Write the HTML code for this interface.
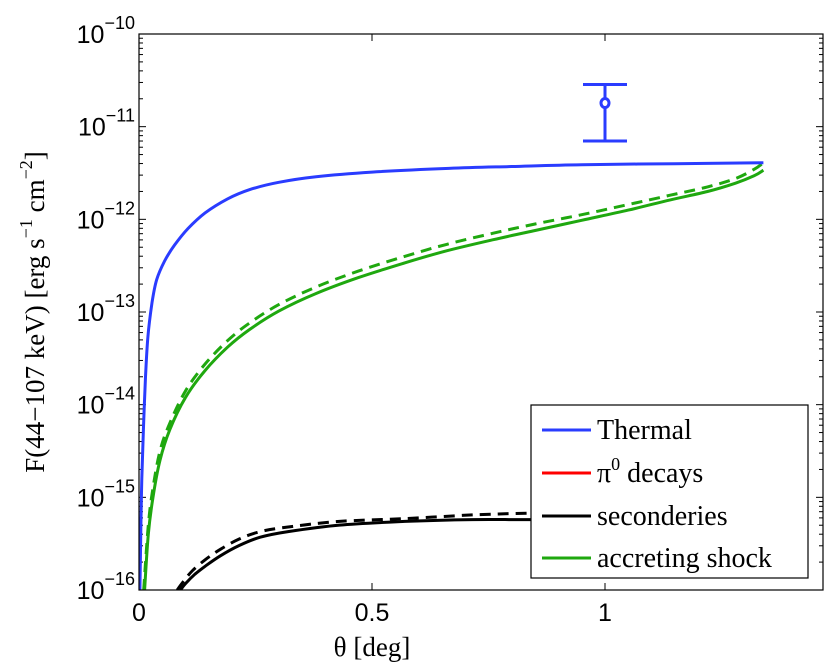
<!DOCTYPE html>
<html><head><meta charset="utf-8">
<style>
html,body{margin:0;padding:0;background:#fff;}
svg{display:block;}
</style></head>
<body>
<svg id="chart" width="830" height="670" xmlns="http://www.w3.org/2000/svg">
</svg>
<script>
// ---- data ----
const thermalX = [0.001,0.002,0.004,0.006,0.0095,0.014,0.019,0.028,0.038,0.055,0.076,0.105,0.142,0.19,0.237,0.3,0.38,0.5,0.665,0.8,0.95,1.15,1.34];
const thermalY = [-16.3,-16,-15.3,-14.8,-14.27,-13.7,-13.27,-12.9,-12.65,-12.45,-12.28,-12.10,-11.93,-11.78,-11.68,-11.60,-11.54,-11.49,-11.45,-11.43,-11.41,-11.40,-11.39];
const shockX = [0.012,0.02,0.03,0.045,0.066,0.1,0.142,0.19,0.237,0.3,0.38,0.47,0.57,0.66,0.76,0.85,0.95,1.05,1.14,1.22,1.28,1.32,1.34];
const shockY = [-16,-15.4,-15.0,-14.6,-14.27,-13.92,-13.63,-13.38,-13.19,-12.99,-12.80,-12.63,-12.47,-12.34,-12.22,-12.12,-12.01,-11.90,-11.79,-11.70,-11.61,-11.53,-11.47];
const shockDX = [0.01,0.02,0.03,0.045,0.066,0.1,0.142,0.19,0.237,0.3,0.38,0.47,0.57,0.66,0.76,0.85,0.95,1.05,1.14,1.22,1.28,1.32,1.34];
const shockDY = [-16,-15.3,-14.9,-14.5,-14.2,-13.85,-13.56,-13.31,-13.12,-12.92,-12.73,-12.56,-12.40,-12.27,-12.15,-12.05,-11.95,-11.84,-11.74,-11.65,-11.56,-11.46,-11.39];
const secX = [0.089,0.1,0.12,0.143,0.175,0.215,0.26,0.32,0.43,0.57,0.715,0.84,1.0,1.33];
const secY = [-16.0,-15.93,-15.83,-15.74,-15.63,-15.52,-15.43,-15.37,-15.30,-15.26,-15.24,-15.24,-15.23,-15.22];
const secDX = [0.082,0.095,0.115,0.143,0.175,0.215,0.26,0.32,0.43,0.57,0.715,0.84,1.0,1.33];
const secDY = [-16.0,-15.91,-15.79,-15.67,-15.56,-15.45,-15.37,-15.32,-15.26,-15.23,-15.19,-15.17,-15.15,-15.13];
const pointX = [1.0];
const pointY = [1.8e-11];
const pointLo = [7e-12];
const pointHi = [2.85e-11];
const xTicks = [0, 0.5, 1];
const xTickLabels = ["0","0.5","1"];
const yDecades = [-16,-15,-14,-13,-12,-11,-10];

// ---- axes ----
const L=139, R=823, T=34, B=590;
const XMAX=(R-L)/466;
const YMIN=-16, YMAX=-10;
function sx(v){return L+(v/XMAX)*(R-L);}
function sy(lg){return B-(lg-YMIN)/(YMAX-YMIN)*(B-T);}
const NS="http://www.w3.org/2000/svg";
const svg=document.getElementById('chart');
function mk(tag,attrs,parent){const e=document.createElementNS(NS,tag);for(const k in attrs)e.setAttribute(k,attrs[k]);(parent||svg).appendChild(e);return e;}

const clip=mk('clipPath',{id:'pc'});mk('rect',{x:L,y:T,width:R-L,height:B-T},clip);

// ticks
const ticks=mk('g',{stroke:'#000','stroke-width':1});


xTicks.forEach(v=>{const x=sx(v);mk('line',{x1:x,y1:B,x2:x,y2:B-7},ticks);mk('line',{x1:x,y1:T,x2:x,y2:T+7},ticks);});
for(let d=YMIN;d<YMAX;d++){for(let m=1;m<10;m++){const y=sy(d+Math.log10(m));const len=m==1?7:4;mk('line',{x1:L,y1:y,x2:L+len,y2:y},ticks);mk('line',{x1:R,y1:y,x2:R-len,y2:y},ticks);}}

// tick labels
xTicks.forEach((v,i)=>{const t=mk('text',{x:sx(v),y:621,'text-anchor':'middle','font-family':'Liberation Sans, sans-serif','font-size':25});t.textContent=xTickLabels[i];

});
yDecades.forEach(d=>{const y=sy(d);const t=mk('text',{x:L-4,y:y+9,'text-anchor':'end','font-family':'Liberation Sans, sans-serif','font-size':25});


const a=mk('tspan',{},t);a.textContent='10';const b=mk('tspan',{dy:-14,'font-size':18},t);b.textContent='\u2212'+(-d);});

function path(xs,ys,color,dash,name){
const P=xs.map((x,i)=>[sx(x),sy(ys[i])]);
let d='M'+P[0][0].toFixed(1)+','+P[0][1].toFixed(1);
for(let i=0;i<P.length-1;i++){const p0=P[Math.max(0,i-1)],p1=P[i],p2=P[i+1],p3=P[Math.min(P.length-1,i+2)];
const c1=[p1[0]+(p2[0]-p0[0])/6,p1[1]+(p2[1]-p0[1])/6],c2=[p2[0]-(p3[0]-p1[0])/6,p2[1]-(p3[1]-p1[1])/6];
d+='C'+c1[0].toFixed(1)+','+c1[1].toFixed(1)+' '+c2[0].toFixed(1)+','+c2[1].toFixed(1)+' '+p2[0].toFixed(1)+','+p2[1].toFixed(1);}
const p=mk('path',{d:d,fill:'none',stroke:color,'stroke-width':3,'clip-path':'url(#pc)'});if(dash)p.setAttribute('stroke-dasharray','11,7');

}
path(secDX,secDY,'#000',true,'secondaries-dashed-line');
path(secX,secY,'#000',false,'secondaries-line');
path(shockDX,shockDY,'#1fa80f',true,'accreting-shock-dashed-line');
path(shockX,shockY,'#1fa80f',false,'accreting-shock-line');
path(thermalX,thermalY,'#2a3cff',false,'thermal-line');

// data point
pointX.forEach((v,i)=>{const g=mk('g',{stroke:'#2a3cff','stroke-width':3,fill:'none'});


const x=sx(v),y=sy(Math.log10(pointY[i])),y1=sy(Math.log10(pointHi[i])),y2=sy(Math.log10(pointLo[i]));
mk('line',{x1:x,y1:y1,x2:x,y2:y2},g);mk('line',{x1:x-22,y1:y1,x2:x+22,y2:y1},g);mk('line',{x1:x-22,y1:y2,x2:x+22,y2:y2},g);
mk('ellipse',{cx:x,cy:y,rx:4,ry:4.5,fill:'#fff'},g);});

// frame
const fr=mk('rect',{x:L,y:T,width:R-L,height:B-T,fill:'none',stroke:'#000','stroke-width':1.2});



// legend
const lg=mk('g',{});


mk('rect',{x:531,y:405,width:277,height:173,fill:'#fff',stroke:'#000','stroke-width':1.2},lg);
const legNames=['Thermal','decays','seconderies','accreting shock'];
const legColors=['#2a3cff','#ff0000','#000','#1fa80f'];
const legY=[430,473,516,558];
legNames.forEach((n,i)=>{const e=mk('g',{},lg);


mk('line',{x1:542,y1:legY[i],x2:591,y2:legY[i],stroke:legColors[i],'stroke-width':3},e);
const t=mk('text',{x:597,y:legY[i]+9,'font-family':'Liberation Serif, serif','font-size':28},e);
if(i==1){const a=mk('tspan',{},t);a.textContent='\u03C0';const b=mk('tspan',{dy:-12,'font-size':18},t);b.textContent='0';const c=mk('tspan',{dy:12},t);c.textContent=' decays';}
else t.textContent=n;});

// axis titles
const xt=mk('text',{x:372,y:656,'text-anchor':'middle','font-family':'Liberation Serif, serif','font-size':27});


xt.textContent='\u03B8 [deg]';
const yt=mk('text',{x:0,y:0,'text-anchor':'middle','font-family':'Liberation Serif, serif','font-size':27,transform:'translate(44,312) rotate(-90)'});


[['F(44\u2212107 keV) [erg s',0,null],['\u22121',-12,18],[' cm',12,null],['\u22122',-12,18],[']',12,null]].forEach(p=>{const s=mk('tspan',{dy:p[1]},yt);if(p[2])s.setAttribute('font-size',p[2]);s.textContent=p[0];});
</script>
</body></html>
